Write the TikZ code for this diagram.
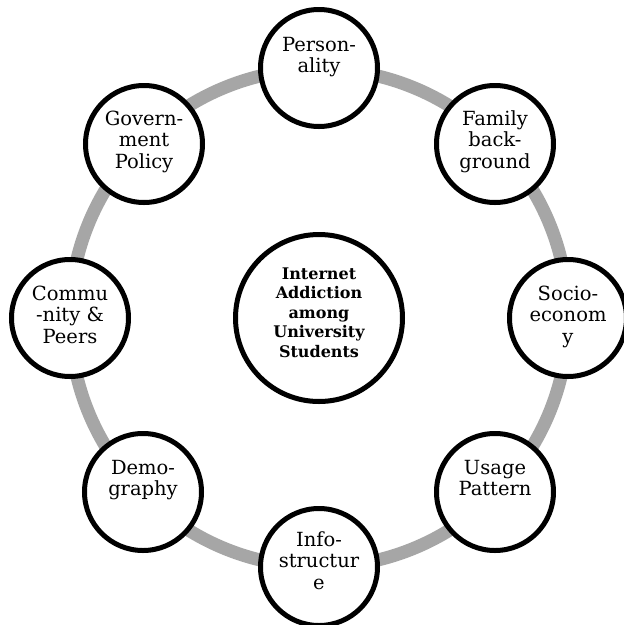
\documentclass[tikz,border=0pt]{standalone}
\usepackage{fontspec}
\setmainfont{DejaVu Serif}
\definecolor{ringgray}{HTML}{A6A6A6}
\begin{document}
\begin{tikzpicture}[x=1pt,y=-1pt,
  sat/.style={circle,draw=black,line width=5pt,fill=white,minimum size=117pt,inner sep=0pt},
  hub/.style={circle,draw=black,line width=5pt,fill=white,minimum size=167pt,inner sep=0pt},
  lbl/.style={inner sep=0pt,anchor=base,font=\fontsize{19.5}{21.5}\selectfont},
  hubl/.style={inner sep=0pt,anchor=base,font=\fontsize{16}{19.5}\selectfont\bfseries},
  ring/.style={draw=ringgray,line width=13pt}]
\fill[white] (0,0) rectangle (624,625);
\useasboundingbox (0,0) rectangle (624,625);
\clip (0,0) rectangle (624,625);
\coordinate (C) at (319,318);
\draw[ring] (C) circle[radius=249pt];
\node[hub] (hub) at (C) {};
\node[sat] (p1) at (319,68) {};
\node[sat] (p2) at (495,144) {};
\node[sat] (p3) at (568,318) {};
\node[sat] (p4) at (495,492) {};
\node[sat] (p5) at (319,567) {};
\node[sat] (p6) at (143,492) {};
\node[sat] (p7) at (70,318) {};
\node[sat] (p8) at (144,144) {};
\node[hubl] (th) at ([yshift=39pt]hub.center) {\parbox[t]{140pt}{\centering Internet\\Addiction\\among\\University\\Students}};
\node[lbl] (t1) at ([yshift=17pt]p1.center) {\parbox[t]{110pt}{\centering Person-\\ality}};
\node[lbl] (t2) at ([yshift=19pt]p2.center) {\parbox[t]{110pt}{\centering Family\\back-\\ground}};
\node[lbl] (t3) at ([yshift=18pt]p3.center) {\parbox[t]{110pt}{\centering Socio-\\econom\\y}};
\node[lbl] (t4) at ([yshift=18pt]p4.center) {\parbox[t]{110pt}{\centering Usage\\Pattern}};
\node[lbl] (t5) at ([yshift=21pt]p5.center) {\parbox[t]{110pt}{\centering Info-\\structur\\e}};
\node[lbl] (t6) at ([yshift=18pt]p6.center) {\parbox[t]{110pt}{\centering Demo-\\graphy}};
\node[lbl] (t7) at ([yshift=18pt]p7.center) {\parbox[t]{110pt}{\centering Commu\\-nity \&\\Peers}};
\node[lbl] (t8) at ([yshift=19pt]p8.center) {\parbox[t]{110pt}{\centering Govern-\\ment\\Policy}};
\end{tikzpicture}
\end{document}
